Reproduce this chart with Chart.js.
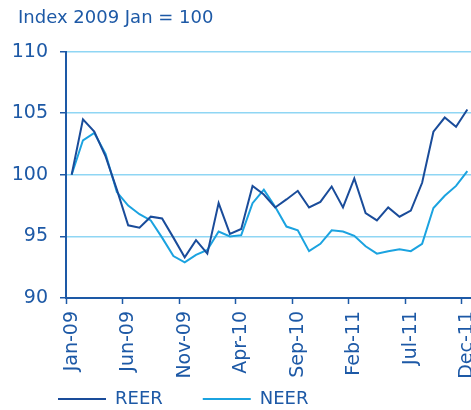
<!DOCTYPE html>
<html><head><meta charset="utf-8">
<script src="https://cdn.jsdelivr.net/npm/chart.js@4"></script>
<style>
html,body{margin:0;padding:0;overflow:hidden;background:#fff}
#wrap{width:480px;height:418px}
</style></head>
<body><div id="wrap"><canvas id="c"></canvas></div>
<script>
const months = ["Jan-09","Feb-09","Mar-09","Apr-09","May-09","Jun-09","Jul-09","Aug-09","Sep-09","Oct-09","Nov-09","Dec-09",
  "Jan-10","Feb-10","Mar-10","Apr-10","May-10","Jun-10","Jul-10","Aug-10","Sep-10","Oct-10","Nov-10","Dec-10",
  "Jan-11","Feb-11","Mar-11","Apr-11","May-11","Jun-11","Jul-11","Aug-11","Sep-11","Oct-11","Nov-11","Dec-11"];
const reer = [100, 104.5, 103.5, 101.5, 98.8, 95.9, 95.7, 96.6, 96.45, 94.9, 93.3, 94.7,
  93.6, 97.7, 95.2, 95.6, 99.1, 98.4, 97.35, 98.0, 98.7, 97.35, 97.8, 99.05,
  97.35, 99.7, 96.9, 96.3, 97.35, 96.6, 97.1, 99.35, 103.5, 104.65, 103.9, 105.3];
const neer = [100, 102.8, 103.4, 101.7, 98.6, 97.5, 96.8, 96.3, 94.9, 93.4, 92.9, 93.5,
  93.9, 95.4, 95.0, 95.1, 97.7, 98.8, 97.4, 95.8, 95.5, 93.8, 94.4, 95.5,
  95.4, 95.05, 94.2, 93.6, 93.8, 93.95, 93.8, 94.4, 97.3, 98.3, 99.1, 100.3];
const yTicks = [90, 95, 100, 105, 110];

const C = { text:"#1d59a6", reer:"#1a4c9a", neer:"#1ba3e0", grid:"#8fd6f4", none:"rgba(0,0,0,0)" };
Chart.defaults.font.family = "'DejaVu Sans', sans-serif";
Chart.defaults.color = C.text;

// tick labels may spill out of their (fixed) scale boxes, as in the original
const noLabelClip = { id:"noLabelClip", beforeDraw(ch){ Object.values(ch.scales).forEach(s => { s._computeLabelArea = () => undefined; }); } };

new Chart(document.getElementById("c"), {
  type: "line",
  data: { labels: months, datasets: [
    { label:"REER", data:reer, borderColor:C.reer, backgroundColor:C.reer, borderWidth:2, pointRadius:0, tension:0 },
    { label:"NEER", data:neer, borderColor:C.neer, backgroundColor:C.neer, borderWidth:2, pointRadius:0, tension:0 }
  ]},
  plugins: [noLabelClip],
  options: {
    responsive:true, maintainAspectRatio:false, animation:false,
    layout:{ padding:{ left:18, right:7, top:0, bottom:0 } },
    plugins:{
      title:{ display:true, text:"Index 2009 Jan = 100", align:"start", color:C.text,
        font:{ size:18, weight:"normal" }, padding:{ top:8, bottom:22 } },
      legend:{ position:"bottom", align:"start",
        labels:{ boxWidth:48, boxHeight:2, padding:40, color:C.text, font:{ size:18 },
          generateLabels: ch => Chart.defaults.plugins.legend.labels.generateLabels(ch)
            .map(l => Object.assign(l, { fillStyle:l.strokeStyle, lineWidth:0 })) } },
      tooltip:{ enabled:false }
    },
    scales:{
      x:{
        offset:true,
        grid:{ offset:true, drawOnChartArea:false, drawTicks:true, tickLength:6, tickWidth:1.5,
          tickColor: c => c.index % 5 === 0 ? C.text : C.none },
        border:{ color:C.text, width:2 },
        ticks:{ autoSkip:false, minRotation:90, maxRotation:90, padding:7, color:C.text, font:{ size:19 },
          callback:(v, i) => i % 5 === 0 ? months[i] : "" },
        afterFit: s => { s.height = 52; s.paddingLeft = 0; s.paddingRight = 0; }
      },
      y:{
        min:90, max:110,
        afterBuildTicks: s => { s.ticks = yTicks.map(v => ({ value:v })); },
        grid:{ color: c => (c.tick && c.tick.value === 90) ? C.none : C.grid, lineWidth:1.5,
          tickColor:C.text, tickLength:6, tickWidth:1.5 },
        border:{ color:C.text, width:2 },
        ticks:{ color:C.text, font:{ size:19 }, padding:12 },
        afterFit: s => { s.width = 48; }
      }
    }
  }
});
</script>
</body></html>
